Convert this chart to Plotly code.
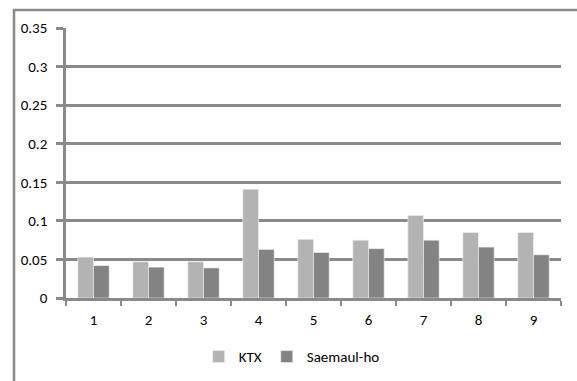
import plotly.graph_objects as go

# Category labels and series values
categories = ["1", "2", "3", "4", "5", "6", "7", "8", "9"]
ktx = [0.053, 0.047, 0.047, 0.141, 0.076, 0.075, 0.107, 0.085, 0.085]
saemaul = [0.042, 0.040, 0.039, 0.063, 0.059, 0.064, 0.075, 0.066, 0.056]
y_ticks = [0, 0.05, 0.1, 0.15, 0.2, 0.25, 0.3, 0.35]
y_tick_text = ["0", "0.05", "0.1", "0.15", "0.2", "0.25", "0.3", "0.35"]

FONT = "Calibri, Carlito, 'Open Sans', sans-serif"
GRID = "#8a8a8a"
TXT = "#000000"

fig = go.Figure()
fig.add_trace(go.Bar(x=categories, y=ktx, name="KTX",
                     marker=dict(color="#b3b3b3", line=dict(color="#f2f2f2", width=0.6))))
fig.add_trace(go.Bar(x=categories, y=saemaul, name="Saemaul-ho",
                     marker=dict(color="#838383", line=dict(color="#f2f2f2", width=0.6))))

W, H = 577, 381
ML, MR, MT, MB = 66, 16, 28, 83
pw, ph = W - ML - MR, H - MT - MB

# outer chart frame (runs past the right and bottom edges)
fx0 = (14 - ML) / pw
fy1 = (H - MB - 10) / ph
fig.add_shape(type="rect", xref="paper", yref="paper",
              x0=fx0, x1=1.2, y0=-0.5, y1=fy1,
              line=dict(color=GRID, width=2.5), fillcolor="rgba(0,0,0,0)", layer="below")

fig.update_layout(
    width=W, height=H,
    margin=dict(l=ML, r=MR, t=MT, b=MB, autoexpand=False),
    paper_bgcolor="white", plot_bgcolor="white",
    barmode="group", bargap=0.43, bargroupgap=0,
    font=dict(family=FONT, size=15, color=TXT),
    showlegend=True,
    legend=dict(orientation="h", x=0.268, y=-0.218, xanchor="left", yanchor="middle",
                itemwidth=30, font=dict(size=15, color=TXT), traceorder="normal",
                itemclick=False, bgcolor="rgba(0,0,0,0)"),
    xaxis=dict(type="category", showgrid=False, showline=True, linecolor=GRID, linewidth=2.5,
               ticks="outside", tickson="boundaries", ticklen=5, tickcolor=GRID, tickwidth=2,
               tickfont=dict(size=15, color=TXT), ticklabelstandoff=6),
    yaxis=dict(range=[0, 0.35], tickvals=y_ticks, ticktext=y_tick_text,
               showgrid=True, gridcolor=GRID, gridwidth=2.5, zeroline=False,
               showline=True, linecolor=GRID, linewidth=2.5,
               ticks="outside", ticklen=7, tickcolor=GRID, tickwidth=2.5,
               tickfont=dict(size=15, color=TXT), ticklabelstandoff=6),
)

fig.write_html("out.html")
